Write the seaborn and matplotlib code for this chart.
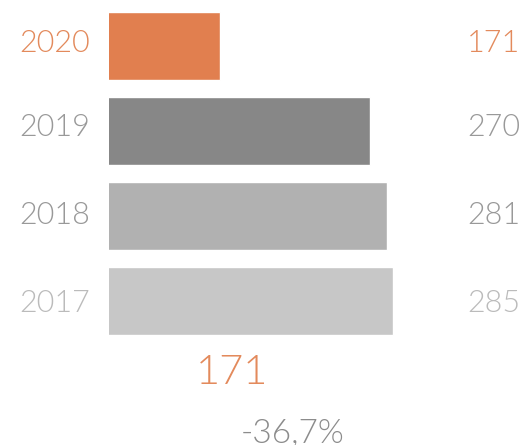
import matplotlib
matplotlib.use("Agg")
import matplotlib.pyplot as plt
import seaborn as sns
import pandas as pd

years = ["2020", "2019", "2018", "2017"]
counts = [171, 270, 281, 285]
bar_colors = ["#E17F4F", "#878787", "#B1B1B1", "#C7C7C7"]
label_colors = ["#E38A5C", "#999999", "#999999", "#BBBBBB"]
total_text = "171"
change_text = "-36,7%"

W, H = 521, 445


def main():
    sns.set_theme(style="white")
    plt.rcParams["font.family"] = ["Lato", "DejaVu Sans"]

    df = pd.DataFrame({"year": years, "count": counts})

    fig = plt.figure(figsize=(W / 100, H / 100), dpi=100)
    # axes placed in pixel terms: bars start at x=109
    ax = fig.add_axes([109 / W, (H - 343) / H, (W - 109) / W, 340 / H])
    sns.barplot(data=df, y="year", x="count", hue="year", palette=bar_colors,
                order=years, hue_order=years, width=0.8, saturation=1,
                legend=False, ax=ax)
    px_per_unit = 1.515
    ax.set_xlim(97.8, 97.8 + (W - 109) / px_per_unit)
    ax.set_ylim(3.5, -0.5)
    ax.axis("off")

    # label rows sit slightly off the bar centres in the original
    label_y = [44, 127, 215, 304]
    for i, (yr, c) in enumerate(zip(years, counts)):
        ypx = label_y[i]
        fig.text(90 / W, 1 - ypx / H, yr, ha="right", va="center",
                 fontsize=22, fontweight=300, color=label_colors[i])
        fig.text(467 / W, 1 - ypx / H, str(c), ha="left", va="center",
                 fontsize=22, fontweight=300, color=label_colors[i])

    fig.text(232 / W, 1 - 373 / H, total_text, ha="center", va="center",
             fontsize=30, fontweight=300, color="#E38A5C")
    fig.text(293 / W, 1 - 434 / H, change_text, ha="center", va="center",
             fontsize=24, fontweight=300, color="#8C8C8C")

    fig.savefig("out.png", dpi=100)


if __name__ == "__main__":
    main()
